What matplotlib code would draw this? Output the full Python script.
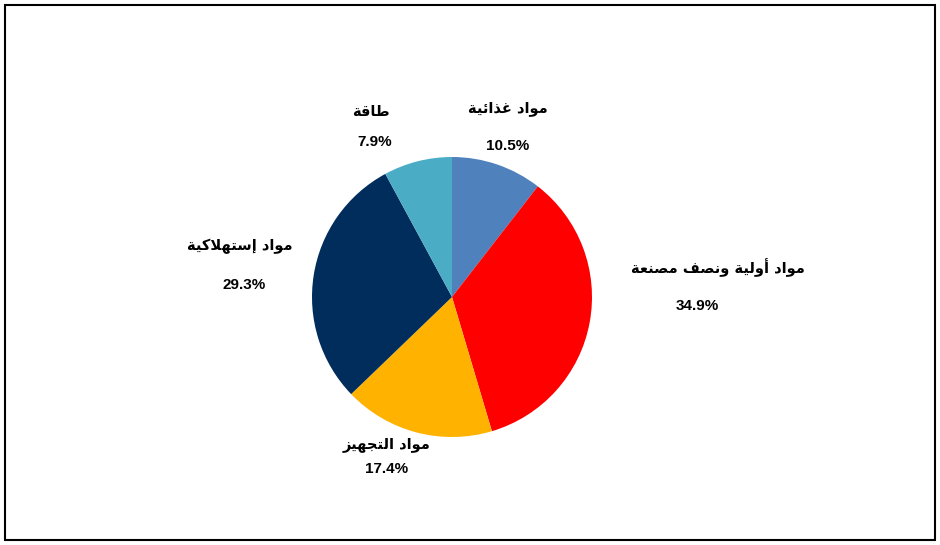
import matplotlib
matplotlib.use("Agg")
import matplotlib.pyplot as plt
from matplotlib.patches import Rectangle

categories = ["مواد غذائية", "مواد أولية ونصف مصنعة", "مواد التجهيز", "مواد إستهلاكية", "طاقة"]
shares = [10.5, 34.9, 17.4, 29.3, 7.9]
colors = ["#4F81BD", "#FF0000", "#FFB300", "#002D5B", "#4BACC6"]
# label anchor points (pixel coords, top-left origin) for name and value
name_pos = [(508, 108), (718, 268), (387, 444), (240, 246), (371, 112)]
value_pos = [(508, 146), (697, 306), (387, 469), (244, 285), (375, 142)]

# Arabic presentation forms: isolated, final, initial, medial
FORMS = {
    "ا": (0xFE8D, 0xFE8E), "أ": (0xFE83, 0xFE84), "إ": (0xFE87, 0xFE88),
    "د": (0xFEA9, 0xFEAA), "ذ": (0xFEAB, 0xFEAC), "و": (0xFEED, 0xFEEE),
    "ز": (0xFEAF, 0xFEB0), "ة": (0xFE93, 0xFE94),
    "م": (0xFEE1, 0xFEE2, 0xFEE3, 0xFEE4), "غ": (0xFECD, 0xFECE, 0xFECF, 0xFED0),
    "ئ": (0xFE89, 0xFE8A, 0xFE8B, 0xFE8C), "ي": (0xFEF1, 0xFEF2, 0xFEF3, 0xFEF4),
    "ل": (0xFEDD, 0xFEDE, 0xFEDF, 0xFEE0), "ن": (0xFEE5, 0xFEE6, 0xFEE7, 0xFEE8),
    "ص": (0xFEB9, 0xFEBA, 0xFEBB, 0xFEBC), "ف": (0xFED1, 0xFED2, 0xFED3, 0xFED4),
    "ع": (0xFEC9, 0xFECA, 0xFECB, 0xFECC), "س": (0xFEB1, 0xFEB2, 0xFEB3, 0xFEB4),
    "ت": (0xFE95, 0xFE96, 0xFE97, 0xFE98), "ه": (0xFEE9, 0xFEEA, 0xFEEB, 0xFEEC),
    "ك": (0xFED9, 0xFEDA, 0xFEDB, 0xFEDC), "ط": (0xFEC1, 0xFEC2, 0xFEC3, 0xFEC4),
    "ق": (0xFED5, 0xFED6, 0xFED7, 0xFED8), "ج": (0xFE9D, 0xFE9E, 0xFE9F, 0xFEA0),
    "لا": (0xFEFB, 0xFEFC),
}


def shape(text):
    chars = []
    i = 0
    while i < len(text):
        if text[i] == "ل" and i + 1 < len(text) and text[i + 1] == "ا":
            chars.append("لا")
            i += 2
        else:
            chars.append(text[i])
            i += 1
    out = []
    for k, c in enumerate(chars):
        if c not in FORMS:
            out.append(c)
            continue
        prev = chars[k - 1] if k > 0 else None
        nxt = chars[k + 1] if k + 1 < len(chars) else None
        jp = prev in FORMS and len(FORMS[prev]) == 4
        jn = len(FORMS[c]) == 4 and nxt in FORMS
        f = FORMS[c]
        if jp and jn:
            out.append(chr(f[3]))
        elif jp:
            out.append(chr(f[1]))
        elif jn:
            out.append(chr(f[2]))
        else:
            out.append(chr(f[0]))
    return "".join(out)[::-1]


W, H = 940, 545
fig = plt.figure(figsize=(W / 100, H / 100), dpi=100)
ax = fig.add_axes([0, 0, 1, 1])

ax.pie(shares, colors=colors, startangle=90, counterclock=False,
       center=(452, H - 297), radius=140, frame=True)
ax.set_xlim(0, W)
ax.set_ylim(0, H)
ax.set_aspect("equal")
ax.axis("off")

for name, val, (nx, ny), (vx, vy) in zip(categories, shares, name_pos, value_pos):
    ax.text(nx, H - ny, shape(name), ha="center", va="center", fontsize=10.5,
            fontweight="bold", family=["DejaVu Sans"])
    ax.text(vx, H - vy, f"{val:.1f}%", ha="center", va="center", fontsize=11,
            fontweight="bold", family=["Liberation Sans", "DejaVu Sans"])

ax.add_patch(Rectangle((5, 5), W - 10, H - 10, fill=False, edgecolor="black", linewidth=1.5))

fig.savefig("out.png", dpi=100)
